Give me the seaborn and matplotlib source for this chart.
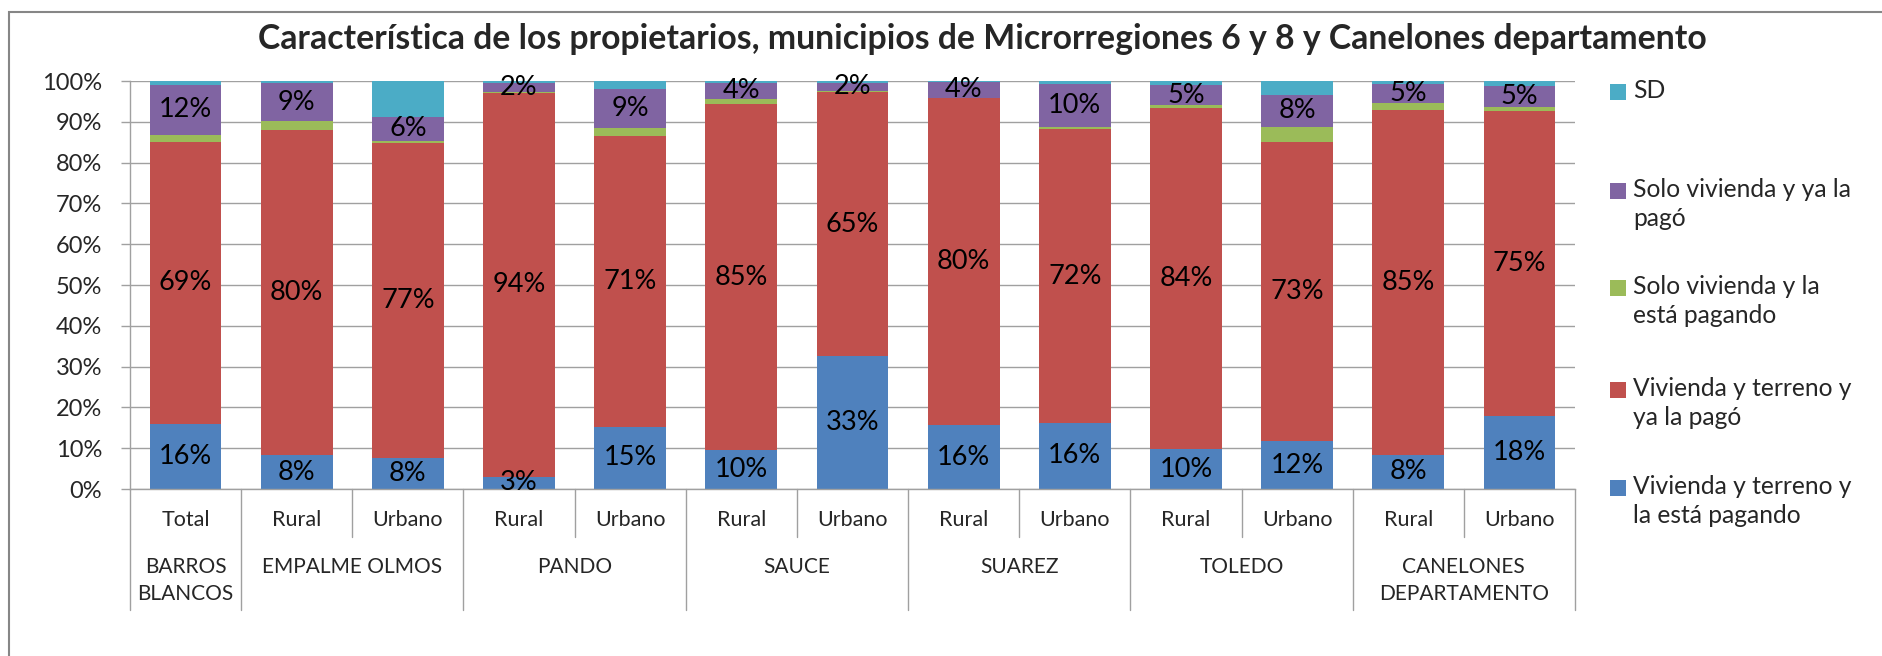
import numpy as np
import pandas as pd
import matplotlib
matplotlib.use("Agg")
import matplotlib.pyplot as plt
import seaborn as sns
from matplotlib.patches import Rectangle
from matplotlib.ticker import PercentFormatter

# -----------------------------------------
# Data (percent of owners per category)
# -----------------------------------------
municipios = ["BARROS\nBLANCOS", "EMPALME OLMOS", "PANDO", "SAUCE",
              "SUAREZ", "TOLEDO", "CANELONES\nDEPARTAMENTO"]
bars_per_municipio = [1, 2, 2, 2, 2, 2, 2]
areas = ["Total", "Rural", "Urbano", "Rural", "Urbano", "Rural", "Urbano",
         "Rural", "Urbano", "Rural", "Urbano", "Rural", "Urbano"]

terreno_pagando = [16.0, 8.3, 7.7, 3.0, 15.3, 9.6, 32.6, 15.6, 16.2, 9.7, 11.7, 8.4, 18.0]
terreno_pagado = [69.0, 79.7, 77.1, 94.1, 71.1, 84.7, 64.6, 80.2, 72.0, 83.6, 73.3, 84.6, 74.6]
vivienda_pagando = [1.7, 2.2, 0.6, 0.3, 2.2, 1.3, 0.4, 0.1, 0.6, 0.7, 3.7, 1.6, 1.1]
vivienda_pagado = [12.4, 9.3, 5.8, 2.0, 9.4, 4.0, 1.9, 3.9, 10.4, 5.0, 7.9, 4.7, 5.0]
sd = [0.9, 0.5, 8.8, 0.6, 2.0, 0.4, 0.5, 0.2, 0.8, 1.0, 3.4, 0.7, 1.3]

series_names = ["Vivienda y terreno y\nla está pagando",
                "Vivienda y terreno y\nya la pagó",
                "Solo vivienda y la\nestá pagando",
                "Solo vivienda y ya la\npagó",
                "SD"]
series_values = [terreno_pagando, terreno_pagado, vivienda_pagando, vivienda_pagado, sd]
colors = ["#4F81BD", "#C0504D", "#9BBB59", "#8064A2", "#4BACC6"]
labelled = [True, True, False, True, False]

# -----------------------------------------
# Style
# -----------------------------------------
sns.set_style("white")
plt.rcParams["font.family"] = ["Lato", "DejaVu Sans"]
grey = "#A0A0A0"

fig = plt.figure(figsize=(18.83, 6.56), dpi=100)
W, H = 1883, 656
ax = fig.add_axes([130 / W, 1 - 489 / H, (1575 - 130) / W, (489 - 81) / H])

keys = [f"{i:02d}" for i in range(len(areas))]
df = pd.DataFrame({"key": keys})
cum = np.zeros(len(keys))
cums = []
for vals in series_values:
    cum = cum + np.array(vals)
    cums.append(cum.copy())

# stacked bars: draw cumulative totals from the top series down
for i in range(len(series_values) - 1, -1, -1):
    df["v"] = cums[i]
    sns.barplot(data=df, x="key", y="v", color=colors[i], width=0.645,
                saturation=1, linewidth=0, ax=ax)

# data labels
for i, vals in enumerate(series_values):
    if not labelled[i]:
        continue
    bottoms = cums[i] - np.array(vals)
    for j, v in enumerate(vals):
        ax.text(j, bottoms[j] + v / 2, f"{v:.0f}%", ha="center", va="center",
                fontsize=19.5, color="black", zorder=5)

ax.set_ylim(0, 100)
ax.set_xlim(-0.5, len(keys) - 0.5)
ax.set_yticks(np.arange(0, 101, 10))
ax.yaxis.set_major_formatter(PercentFormatter(decimals=0))
ax.tick_params(axis="y", labelsize=17, length=6.5, width=1, color=grey,
               direction="out", left=True, pad=13.5)
ax.set_xticks([])
ax.set_xlabel("")
ax.set_ylabel("")
ax.grid(axis="y", color=grey, linewidth=1)
ax.set_axisbelow(True)
for s in ["top", "right"]:
    ax.spines[s].set_visible(False)
for s in ["left", "bottom"]:
    ax.spines[s].set_color(grey)
    ax.spines[s].set_linewidth(1)

# multi-level category axis
trans = ax.get_xaxis_transform()
for j, a in enumerate(areas):
    ax.text(j, -0.076, a, transform=trans, ha="center", va="center", fontsize=15.5)

start = 0
group_edges = [-0.5]
for name, n in zip(municipios, bars_per_municipio):
    center = start + (n - 1) / 2
    ax.text(center, -0.167, name, transform=trans, ha="center", va="top",
            fontsize=15, linespacing=1.45)
    for k in range(1, n):
        ax.plot([start + k - 0.5] * 2, [0, -0.118], transform=trans, color=grey,
                linewidth=1, clip_on=False)
    start += n
    group_edges.append(start - 0.5)
for e in group_edges:
    ax.plot([e, e], [0, -0.296], transform=trans, color=grey, linewidth=1,
            clip_on=False)

# title
fig.text(982 / W, 1 - 39 / H,
         "Característica de los propietarios, municipios de Microrregiones 6 y 8 y Canelones departamento",
         ha="center", va="center", fontsize=24.3, fontweight="bold")

# legend (top entry first, like the reference)
legend_y = [92, 191, 288, 390, 488]
for k, i in enumerate(range(len(series_names) - 1, -1, -1)):
    y = legend_y[k]
    fig.patches.append(Rectangle((1610 / W, 1 - (y + 8) / H), 16 / W, 16 / H,
                                 transform=fig.transFigure, facecolor=colors[i],
                                 edgecolor="none"))
    fig.text(1633 / W, 1 - (y - 13) / H, series_names[i], ha="left", va="top",
             fontsize=17.7, linespacing=1.33)

# chart area border
fig.patches.append(Rectangle((9 / W, -0.01), 1.0, 1 - 12 / H + 0.01,
                             transform=fig.transFigure, fill=False,
                             edgecolor="#868686", linewidth=1.5))

fig.savefig("out.png", dpi=100)
